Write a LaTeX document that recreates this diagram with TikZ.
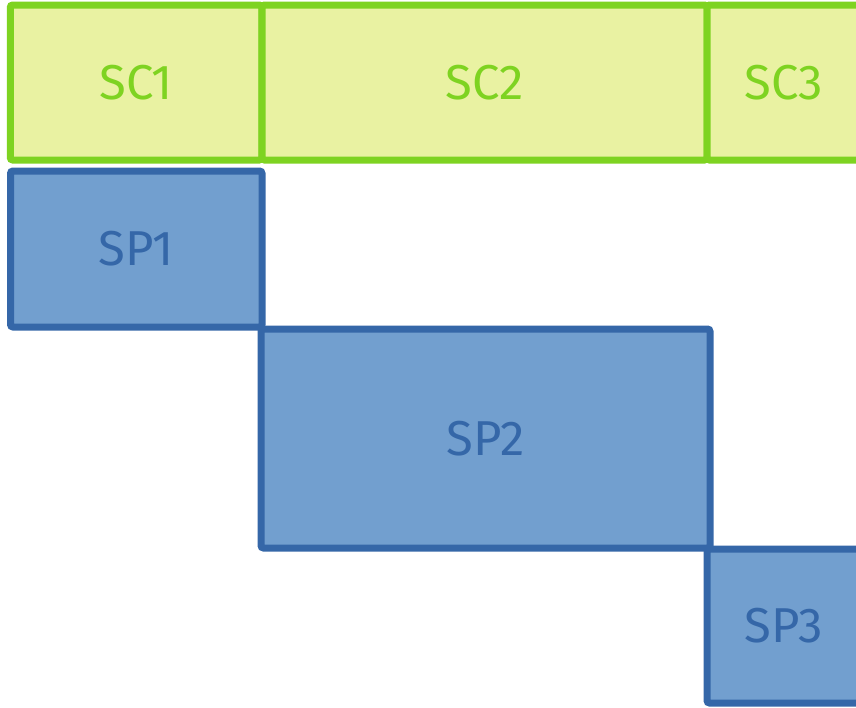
\documentclass[tikz,border=0pt]{standalone}
\usepackage{fontspec}
\setmainfont{Fira Sans}
\definecolor{scline}{HTML}{7ED321}
\definecolor{scfill}{HTML}{E9F2A2}
\definecolor{spline}{HTML}{3567A8}
\definecolor{spfill}{HTML}{729FCF}
\tikzset{
  slot/.style={draw, line width=7pt, rounded corners=2.5pt, inner sep=0pt,
    font=\fontsize{49}{58}\selectfont},
  scbox/.style={slot, draw=scline, fill=scfill, text=scline},
  spbox/.style={slot, draw=spline, fill=spfill, text=spline},
}
\begin{document}
\begin{tikzpicture}[x=1pt,y=-1pt]
\useasboundingbox (0,0) rectangle (856,707);
\clip (0,0) rectangle (856,707);
% top row of SC blocks
\node[scbox, minimum width=251.5pt, minimum height=155pt] (sc1) at (136,82.5) {SC1};
\node[scbox, minimum width=445pt, minimum height=155pt] (sc2) at (484.5,82.5) {SC2};
\node[scbox, minimum width=154pt, minimum height=155pt] (sc3) at (784,82.5) {SC3};
% staircase of SP blocks
\node[spbox, minimum width=251.5pt, minimum height=156pt] (sp1) at (136.25,249) {SP1};
\node[spbox, minimum width=449pt, minimum height=219pt] (sp2) at (485.5,438.5) {SP2};
\node[spbox, minimum width=154pt, minimum height=154pt] (sp3) at (784,626) {SP3};
\end{tikzpicture}
\end{document}
